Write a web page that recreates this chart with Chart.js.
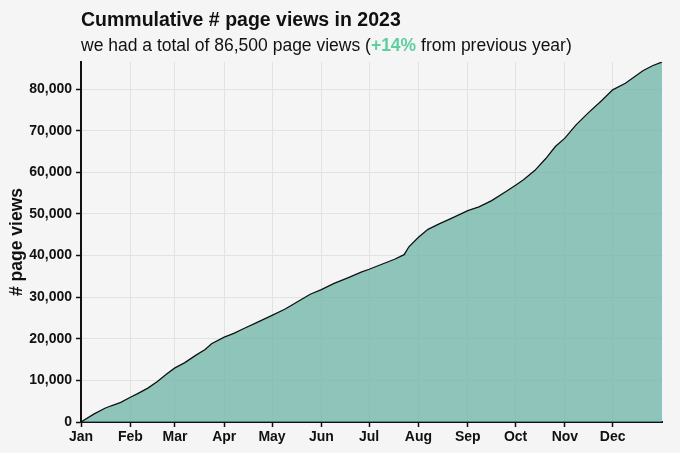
<!DOCTYPE html>
<html>
<head>
<meta charset="utf-8">
<script src="https://cdn.jsdelivr.net/npm/chart.js@4.4.1/dist/chart.umd.min.js"></script>
<style>
  html, body { margin: 0; padding: 0; background: #f5f5f5; }
  #wrap { width: 680px; height: 453px; }
</style>
</head>
<body>
<div id="wrap"><canvas id="chart" width="680" height="453"></canvas></div>
<script>
// day of year (0 = Jan 1) and cumulative page views
const days = [0, 8, 15, 19, 25, 31, 35, 42, 48, 54, 59, 65, 72, 78, 82, 90, 96, 102, 111, 120,
  128, 136, 144, 151, 159, 168, 176, 181, 189, 197, 203, 206, 212, 218, 225, 233, 243, 250,
  258, 267, 273, 278, 285, 292, 298, 304, 311, 319, 327, 334, 342, 353, 359, 365];
const views = [0, 1900, 3300, 3900, 4700, 5950, 6700, 8150, 9750, 11600, 13000, 14200, 16000,
  17400, 18800, 20400, 21300, 22400, 24000, 25600, 27100, 28900, 30700, 31800, 33300, 34700,
  36000, 36700, 37900, 39100, 40200, 42100, 44400, 46300, 47600, 49000, 50800, 51700, 53200,
  55400, 56900, 58200, 60400, 63300, 66200, 68200, 71400, 74400, 77200, 79800, 81400, 84400,
  85600, 86500];

const monthStarts = [0, 31, 59, 90, 120, 151, 181, 212, 243, 273, 304, 334];
const monthLabels = ['Jan', 'Feb', 'Mar', 'Apr', 'May', 'Jun', 'Jul', 'Aug', 'Sep', 'Oct', 'Nov', 'Dec'];
const yTicks = [0, 10000, 20000, 30000, 40000, 50000, 60000, 70000, 80000];

const titleText = 'Cummulative # page views in 2023';
const subParts = [
  ['we had a total of 86,500 page views (', '#111'],
  ['+14%', '#5fcf9f'],
  [' from previous year)', '#111']
];

const FONT = "'Liberation Sans', Arial, sans-serif";

const headerPlugin = {
  id: 'header',
  afterDraw(chart) {
    const ctx = chart.ctx;
    const left = chart.chartArea.left;
    ctx.save();
    ctx.textBaseline = 'alphabetic';
    ctx.textAlign = 'left';
    ctx.fillStyle = '#111';
    ctx.font = 'bold 19.5px ' + FONT;
    ctx.fillText(titleText, left, 26);
    let x = left;
    subParts.forEach(([txt, col]) => {
      ctx.fillStyle = col;
      ctx.font = (col === '#111' ? '' : 'bold ') + '17.5px ' + FONT;
      ctx.fillText(txt, x, 51);
      x += ctx.measureText(txt).width;
    });
    ctx.restore();
  }
};

const pts = days.map((d, i) => ({ x: d, y: views[i] }));

new Chart(document.getElementById('chart'), {
  type: 'line',
  data: {
    datasets: [{
      data: pts,
      borderColor: '#111',
      borderWidth: 1.3,
      backgroundColor: 'rgba(102, 178, 164, 0.72)',
      fill: 'origin',
      pointRadius: 0,
      tension: 0
    }]
  },
  options: {
    responsive: false,
    animation: false,
    layout: { padding: { top: 62, right: 18, left: 0, bottom: 0 } },
    plugins: { legend: { display: false }, tooltip: { enabled: false } },
    scales: {
      x: {
        type: 'linear',
        min: 0,
        max: 365,
        afterBuildTicks: (s) => { s.ticks = monthStarts.map(v => ({ value: v })); },
        afterFit: (s) => { s.height = 31; },
        ticks: {
          autoSkip: false,
          maxRotation: 0,
          padding: 2,
          color: '#111',
          font: { family: FONT, size: 14, weight: 'bold' },
          callback: (v) => monthLabels[monthStarts.indexOf(v)]
        },
        grid: { color: '#e2e2e2', lineWidth: 1, tickColor: '#111', tickLength: 5, tickWidth: 1.5 },
        border: { color: '#111', width: 2 }
      },
      y: {
        min: 0,
        max: 86500,
        afterBuildTicks: (s) => { s.ticks = yTicks.map(v => ({ value: v })); },
        afterFit: (s) => { s.width = 81; },
        ticks: {
          padding: 4,
          color: '#111',
          font: { family: FONT, size: 14, weight: 'bold' },
          callback: (v) => v.toLocaleString('en-US')
        },
        grid: { color: '#e2e2e2', lineWidth: 1, tickColor: '#111', tickLength: 5, tickWidth: 1.5 },
        border: { color: '#111', width: 2 },
        title: {
          display: true,
          text: '# page views',
          color: '#111',
          font: { family: FONT, size: 17.5, weight: 'bold' },
          padding: { top: 7, bottom: 0 }
        }
      }
    }
  },
  plugins: [headerPlugin]
});
</script>
</body>
</html>
